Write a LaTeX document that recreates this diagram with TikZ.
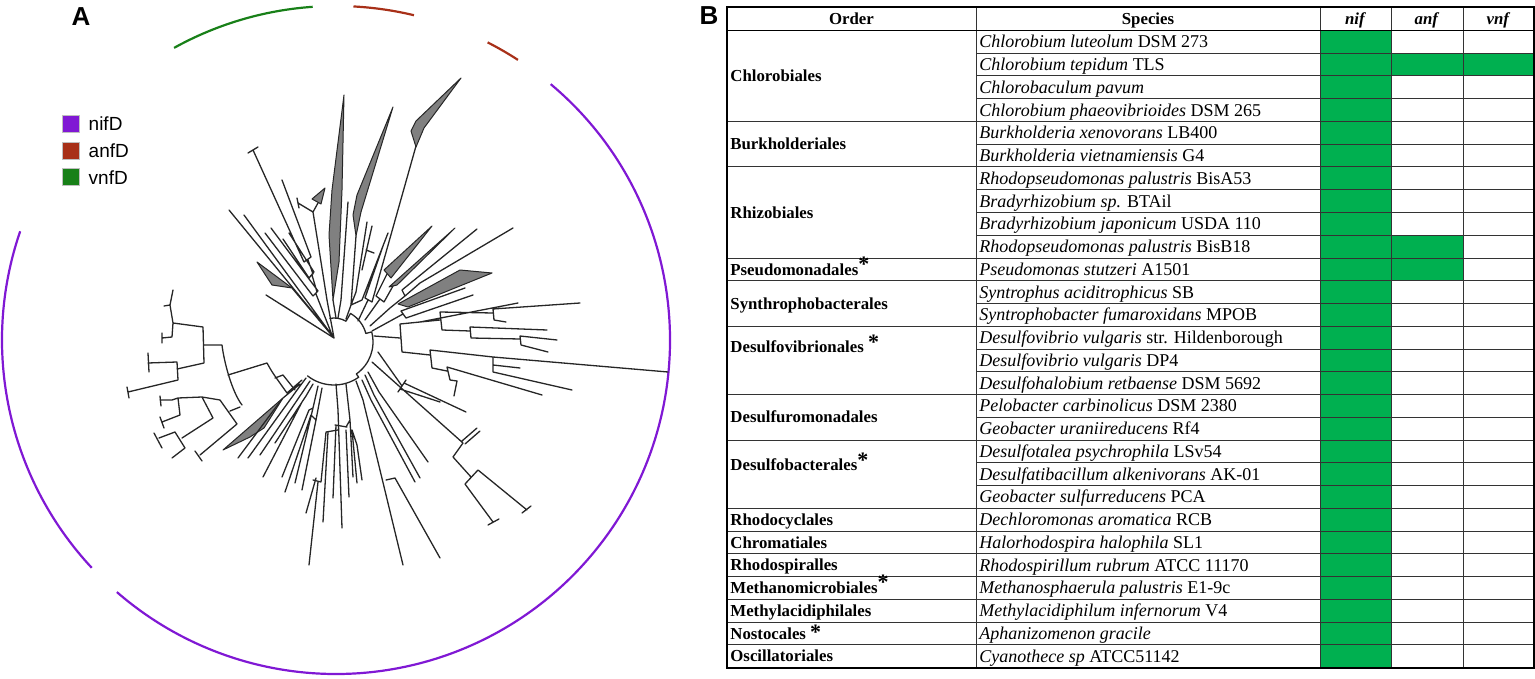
\documentclass[tikz,border=0pt]{standalone}
\usepackage{fontspec}
\setmainfont{Liberation Serif}
\setsansfont{Liberation Sans}
\usetikzlibrary{positioning}

\definecolor{nifcol}{RGB}{128,24,212}
\definecolor{anfcol}{RGB}{168,48,24}
\definecolor{vnfcol}{RGB}{24,128,24}
\definecolor{cellgreen}{RGB}{0,176,80}

\newcommand\supstar{\raisebox{1.8pt}{\fontsize{11}{11}\selectfont *}}

\tikzset{
  branch/.style={line width=0.65pt, black!85, line cap=round, line join=round},
  clade/.style={fill=black!50, draw=black!85, line width=0.5pt, line join=round},
  genearc/.style={line width=1.1pt},
  legbox/.style={draw=black!25, line width=0.3pt, minimum size=8.5pt, inner sep=0pt},
  legtext/.style={font=\sffamily\fontsize{9.5}{10}\selectfont, anchor=west, inner sep=0pt},
  panel/.style={font=\sffamily\bfseries\fontsize{13}{13}\selectfont, inner sep=0pt},
  ordtext/.style={font=\bfseries\fontsize{8.4}{9}\selectfont, anchor=west, inner sep=0pt, text height=5.6pt, text depth=0pt},
  sptext/.style={font=\fontsize{9}{10}\selectfont, anchor=west, inner sep=0pt, text height=6pt, text depth=0pt},
  headtext/.style={font=\bfseries\fontsize{8.4}{9}\selectfont, inner sep=0pt, text height=5.6pt, text depth=0pt},
  grid/.style={line width=0.5pt, black!80},
}

\begin{document}
\begin{tikzpicture}[x=0.5pt, y=-0.5pt]
  \useasboundingbox (0,0) rectangle (1535,679);

  % panel labels
  \node[panel] (labA) at (81,17) {A};
  \node[panel] (labB) at (709,16) {B};

  % legend
  \node[legbox, fill=nifcol] (nifbox) at (70.5,124) {};
  \node[legbox, fill=anfcol, below=4.5pt of nifbox] (anfbox) {};
  \node[legbox, fill=vnfcol, below=4.5pt of anfbox] (vnfbox) {};
  \node[legtext, right=4.5pt of nifbox] (niflab) {nifD};
  \node[legtext, right=4.5pt of anfbox] (anflab) {anfD};
  \node[legtext, right=4.5pt of vnfbox] (vnflab) {vnfD};

  % outer gene arcs
  \begin{scope}[shift={(168pt,-170pt)}]
    \draw[genearc, vnfcol] (119:167pt) arc[start angle=119, end angle=94, radius=167pt];
    \draw[genearc, anfcol] (87:167pt) arc[start angle=87, end angle=76.5, radius=167pt];
    \draw[genearc, anfcol] (63:167pt) arc[start angle=63, end angle=57, radius=167pt];
    \draw[genearc, nifcol] (50:167pt) arc[start angle=50, end angle=-131, radius=167pt];
    \draw[genearc, nifcol] (223:167pt) arc[start angle=223, end angle=161, radius=167pt];
  \end{scope}

  % inner arcs of the tree
  \begin{scope}[shift={(167pt,-171pt)}]
    \draw[branch] (100:12pt) arc[start angle=100, end angle=60, radius=12pt] -- (60:16.5pt)
      arc[start angle=60, end angle=15, radius=16.5pt] -- (15:19.5pt)
      arc[start angle=15, end angle=-55, radius=19.5pt] -- (-55:21.5pt)
      arc[start angle=-55, end angle=-128, radius=21.5pt];
  \end{scope}

  % upper left fan
  \draw[branch]
    (229,210) -- (334,338)  (244,215) -- (331,334)
    (266,295) -- (334,338)  (282,305) -- (334,338)
    (292,288) -- (334,338)
    (265,233) -- (313,296)  (271,228) -- (318,291)  (313,296) -- (318,291)  (316,294) -- (332,335)
    (283,239) -- (309,278)  (289,233) -- (314,272)  (309,278) -- (314,272)  (312,275) -- (317,292)
    (253,150) -- (304,262)  (248,153) -- (258,147)
    (282,180) -- (311,257)  (304,262) -- (311,257)  (308,260) -- (313,274)
    (313,212) -- (321,262) -- (327,300) -- (334,338)
    (298,203) -- (313,212)  (297,198) -- (299,208)  (313,212) -- (318,203);
  \filldraw[clade] (257,262) -- (272,285) -- (292,288) -- cycle;
  \filldraw[clade] (312,199) -- (325,188) -- (321,204) -- cycle;

  % upper wedges
  \filldraw[clade] (344,95) -- (332,190) -- (329,235) -- (333,300) -- (339,262) -- (342,190) -- cycle;
  \filldraw[clade] (393,107) -- (357,195) -- (353,215) -- (356,236) -- (361,212) -- cycle;
  \filldraw[clade] (461,78) -- (416,121) -- (411,131) -- (416,147) -- (424,128) -- cycle;
  \draw[branch]
    (333,300) -- (336,318)
    (348,202) -- (341,300) -- (338,318)
    (356,236) -- (351,305)
    (367,222) -- (356,292)  (372,226) -- (362,270)  (366,250) -- (374,253)
    (388,233) -- (362,300)  (362,300) -- (351,305)  (356,292) -- (351,305)
    (351,305) -- (346,319)
    (416,146) -- (372,302)
    (383,246) -- (365,298)  (365,298) -- (372,302)  (368,300) -- (358,321);

  % upper right
  \filldraw[clade] (432,226) -- (384,270) -- (391,278) -- cycle;
  \filldraw[clade] (455,228) -- (389,287) -- (397,285) -- cycle;
  \filldraw[clade] (492,273) -- (460,270) -- (398,304) -- (408,307) -- cycle;
  \draw[branch]
    (477,229) -- (402,290)  (513,228) -- (420,283) -- (405,296)  (402,290) -- (405,296)
    (387,274) -- (376,296)  (393,286) -- (384,302)  (376,296) -- (384,302)
    (380,299) -- (365,320)  (405,296) -- (390,308) -- (370,326)
    (465,288) -- (401,311)  (473,295) -- (406,318)  (401,311) -- (406,318)
    (403,314) -- (372,331);

  % right clade
  \draw[branch]
    (374,336) -- (400,338)
    (400,324) -- (402,352)
    (400,324) -- (440,320)  (420,322) -- (518,303)
    (440,312) -- (442,330)
    (440,312) -- (493,313)  (493,309) -- (494,320)
    (493,309) -- (580,303)  (494,320) -- (506,322)
    (442,330) -- (470,331)  (470,327) -- (471,338)
    (470,327) -- (547,330)  (471,338) -- (520,339)
    (520,336) -- (521,345)  (520,336) -- (557,340)  (521,345) -- (548,352)
    (402,352) -- (430,355)  (430,350) -- (432,368)
    (430,350) -- (493,357)  (493,357) -- (493,372)
    (493,357) -- (668,372)  (493,365) -- (520,368)  (493,372) -- (572,390)
    (432,368) -- (447,371)  (447,367) -- (450,380)
    (447,367) -- (542,395)  (450,380) -- (457,381) -- (454,396);

  % lower right
  \draw[branch]
    (372,362) -- (463,443)  (463,443) -- (453,457)  (453,457) -- (471,477)
    (465,484) -- (478,470)
    (465,484) -- (493,522)  (488,525) -- (499,519)
    (478,470) -- (527,510)  (522,513) -- (531,506)
    (378,352) -- (402,386)  (398,392) -- (406,380)
    (404,383) -- (466,412)  (400,389) -- (440,402)
    (462,441) -- (477,428)  (465,444) -- (480,431);

  % bottom fan
  \filldraw[clade] (223,450) -- (283,398) -- (264,428) -- (250,437) -- cycle;
  \draw[branch]
    (283,398) -- (300,384)  (287,393) -- (302,380)
    (238,458) -- (282,399)  (248,458) -- (300,386)  (260,455) -- (304,390)
    (263,477) -- (302,402)  (275,443) -- (306,396)  (282,477) -- (309,410)
    (285,492) -- (311,415)  (295,483) -- (313,408)  (302,490) -- (316,420)
    (300,386) -- (306,378)  (304,390) -- (310,381)  (306,396) -- (313,384)
    (302,402) -- (306,396)  (309,410) -- (313,408)  (311,415) -- (316,420)
    (313,408) -- (318,386)  (316,420) -- (322,388)
    (306,513) -- (316,478)  (309,565) -- (318,482)  (313,480) -- (321,482)
    (321,482) -- (326,432)  (323,522) -- (328,432)  (326,432) -- (338,430)
    (333,498) -- (336,425)  (342,528) -- (338,410)  (335,425) -- (347,427)
    (349,497) -- (346,430)  (353,477) -- (350,420)  (346,427) -- (350,420)
    (357,483) -- (352,430)  (362,480) -- (357,445)  (352,430) -- (357,445)
    (338,410) -- (336,384)  (350,420) -- (346,384)
    (403,565) -- (363,400)  (363,400) -- (356,381)
    (440,558) -- (395,478)  (395,478) -- (386,480)
    (420,478) -- (374,395)  (428,462) -- (379,392)  (415,482) -- (371,400)
    (374,395) -- (365,375)  (379,392) -- (368,372)  (371,400) -- (362,380);

  % left clade
  \draw[branch]
    (203,327) -- (204,363)
    (204,345) -- (222,345)
    (222,345) .. controls (224,362) and (232,392) .. (242,405)
    (228,375) -- (267,363)
    (267,363) .. controls (272,372) .. (287,393)
    (275,378) -- (283,375) -- (295,390)
    (204,363) -- (177,369)
    (177,362) -- (178,380)
    (177,362) -- (148,363)  (148,353) -- (149,372)
    (178,380) -- (128,392)  (127,387) -- (129,398)
    (203,327) -- (173,323)
    (173,323) -- (172,337)  (172,337) -- (162,338)  (162,333) -- (162,343)
    (173,323) -- (170,305) -- (173,290)  (170,305) -- (164,306)
    (240,407) -- (230,411)
    (220,400) -- (237,424)
    (220,400) -- (202,397)  (202,397) -- (178,398)  (202,397) -- (213,418)
    (178,398) -- (172,400) -- (160,400)  (160,396) -- (161,406)
    (178,398) -- (180,415)
    (180,415) -- (162,422)  (160,417) -- (164,428)
    (213,418) -- (182,438)
    (175,432) -- (185,448)
    (175,432) -- (159,438)  (154,433) -- (162,448)
    (185,448) -- (172,458)
    (237,424) -- (200,455)  (195,451) -- (202,461);

  % panel B: table cells
  \fill[cellgreen] (1320,30.5) rectangle (1391,667.5);
  \fill[cellgreen] (1391,53.25) rectangle (1533.5,76);
  \fill[cellgreen] (1391,235.25) rectangle (1463,280.75);

  % grid
  \foreach \xv in {976,1320,1391,1463}
    \draw[grid] (\xv,7) -- (\xv,667.5);
  \foreach \r in {1,...,27}
    \draw[grid] (976,{30.5+\r*22.75}) -- (1533.5,{30.5+\r*22.75});
  \foreach \r in {4,6,10,11,13,16,18,21,22,23,24,25,26,27}
    \draw[grid] (727,{30.5+\r*22.75}) -- (976,{30.5+\r*22.75});
  \draw[line width=0.8pt] (727,30.5) -- (1533.5,30.5);
  \draw[line width=1pt] (727,7) rectangle (1533.5,667.5);

  % header
  \node[headtext] (hOrder) at (851.5,18.75) {Order};
  \node[headtext] (hSpecies) at (1148,18.75) {Species};
  \node[headtext] (hnif) at (1355.5,18.75) {\textit{nif}};
  \node[headtext] (hanf) at (1427,18.75) {\textit{anf}};
  \node[headtext] (hvnf) at (1498.5,18.75) {\textit{vnf}};

  % species
  \foreach \gen/\strain [count=\i] in {
      Chlorobium luteolum/DSM 273, Chlorobium tepidum/TLS, Chlorobaculum pavum/{},
      Chlorobium phaeovibrioides/DSM 265, Burkholderia xenovorans/LB400,
      Burkholderia vietnamiensis/G4, Rhodopseudomonas palustris/BisA53,
      Bradyrhizobium sp./BTAil, Bradyrhizobium japonicum/USDA 110,
      Rhodopseudomonas palustris/BisB18, Pseudomonas stutzeri/A1501,
      Syntrophus aciditrophicus/SB, Syntrophobacter fumaroxidans/MPOB,
      Desulfovibrio vulgaris/str. Hildenborough, Desulfovibrio vulgaris/DP4,
      Desulfohalobium retbaense/DSM 5692, Pelobacter carbinolicus/DSM 2380,
      Geobacter uraniireducens/Rf4, Desulfotalea psychrophila/LSv54,
      Desulfatibacillum alkenivorans/AK-01, Geobacter sulfurreducens/PCA,
      Dechloromonas aromatica/RCB, Halorhodospira halophila/SL1,
      Rhodospirillum rubrum/ATCC 11170, Methanosphaerula palustris/E1-9c,
      Methylacidiphilum infernorum/V4, Aphanizomenon gracile/{},
      Cyanothece sp/ATCC51142}
    \node[sptext] (sp\i) at (979,{30.5+(\i-0.5)*22.75}) {\textit{\gen} \strain};

  % orders
  \foreach \lab/\yc [count=\k] in {
      Chlorobiales/76, Burkholderiales/144.25, Rhizobiales/212.5,
      Pseudomonadales\supstar/269.4, Synthrophobacterales/303.5,
      Desulfovibrionales \supstar/347, Desulfuromonadales/417.25,
      Desulfobacterales\supstar/465, Rhodocyclales/519.6, Chromatiales/542.4,
      Rhodospiralles/565.1, Methanomicrobiales\supstar/587.9,
      Methylacidiphilales/610.6, Nostocales {\fontsize{11}{11}\selectfont *}/633.4,
      Oscillatoriales/656.1}
    \node[ordtext] (ord\k) at (730,\yc) {\lab};
\end{tikzpicture}
\end{document}
